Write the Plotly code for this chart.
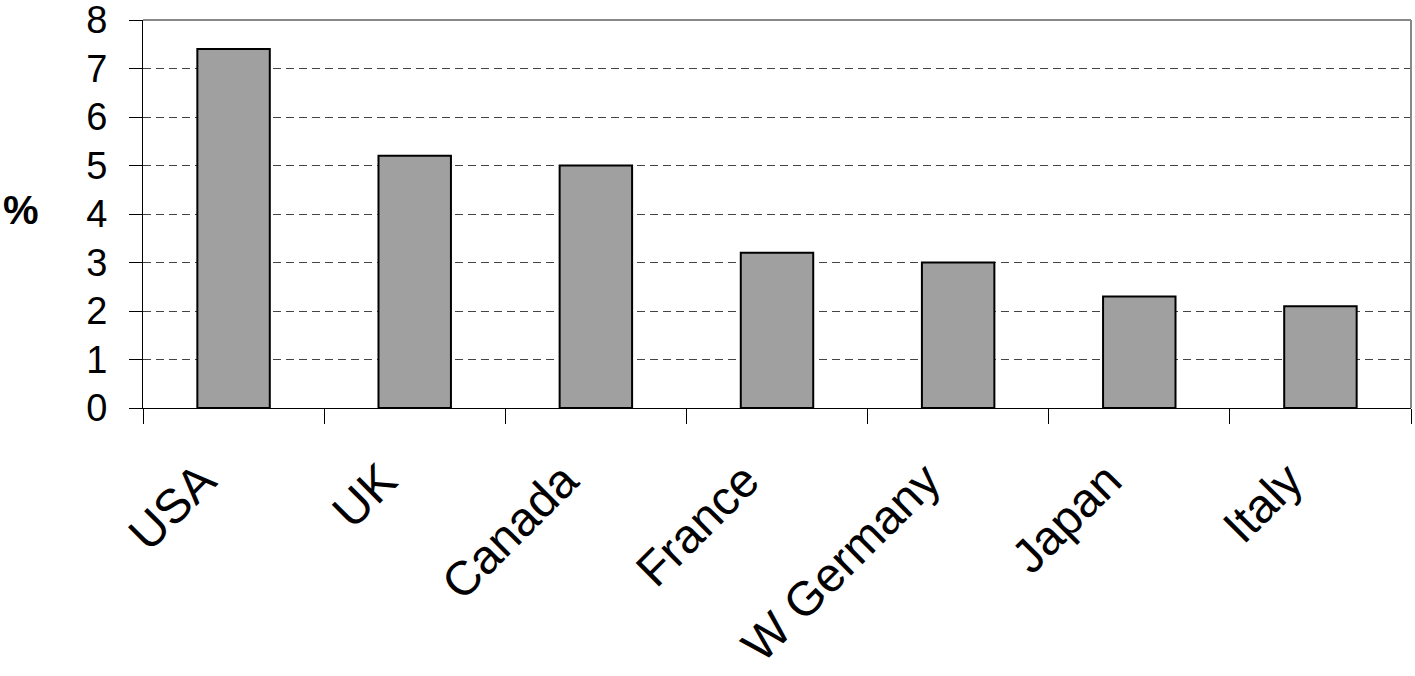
import plotly.graph_objects as go

# Country values, in percent
countries = ["USA", "UK", "Canada", "France", "W Germany", "Japan", "Italy"]
values = [7.4, 5.2, 5.0, 3.2, 3.0, 2.3, 2.1]
y_ticks = [0, 1, 2, 3, 4, 5, 6, 7, 8]

FONT = "Liberation Sans, Arial, sans-serif"

fig = go.Figure(
    go.Bar(
        x=countries,
        y=values,
        marker=dict(color="#a0a0a0", line=dict(color="black", width=2)),
    )
)

fig.update_layout(
    width=1415,
    height=676,
    margin=dict(l=143, r=4, t=20, b=268, autoexpand=False),
    paper_bgcolor="white",
    plot_bgcolor="white",
    bargap=0.6,
    showlegend=False,
    font=dict(family=FONT, color="black"),
)

fig.update_xaxes(
    type="category",
    automargin=False,
    showline=True,
    linecolor="black",
    linewidth=1,
    ticks="outside",
    tickson="boundaries",
    ticklen=15,
    tickcolor="black",
    tickangle=-45,
    ticklabelstandoff=24,
    ticklabelshift=-32,
    tickfont=dict(size=48, family=FONT, color="black"),
    showgrid=False,
)

fig.update_yaxes(
    range=[0, 8],
    automargin=False,
    tickvals=y_ticks,
    showline=True,
    linecolor="black",
    linewidth=1,
    ticks="outside",
    ticklen=13,
    tickcolor="black",
    ticklabelstandoff=14,
    ticklabeloverflow="allow",
    tickfont=dict(size=38, family=FONT, color="black"),
    showgrid=True,
    gridcolor="#444444",
    gridwidth=1,
    griddash="8px,5px",
    zeroline=False,
)

# Grey frame on the top and right of the plot area
fig.add_shape(type="line", xref="paper", yref="paper", x0=0, x1=1, y0=1, y1=1,
              line=dict(color="#888888", width=2))
fig.add_shape(type="line", xref="paper", yref="paper", x0=1, x1=1, y0=0, y1=1,
              line=dict(color="#888888", width=2))

# Horizontal axis title
fig.add_annotation(
    text="<b>%</b>", xref="paper", yref="paper",
    x=-0.096, y=0.51, xanchor="center", yanchor="middle",
    showarrow=False, font=dict(size=40, family=FONT, color="black"),
)

fig.write_html("out.html")
